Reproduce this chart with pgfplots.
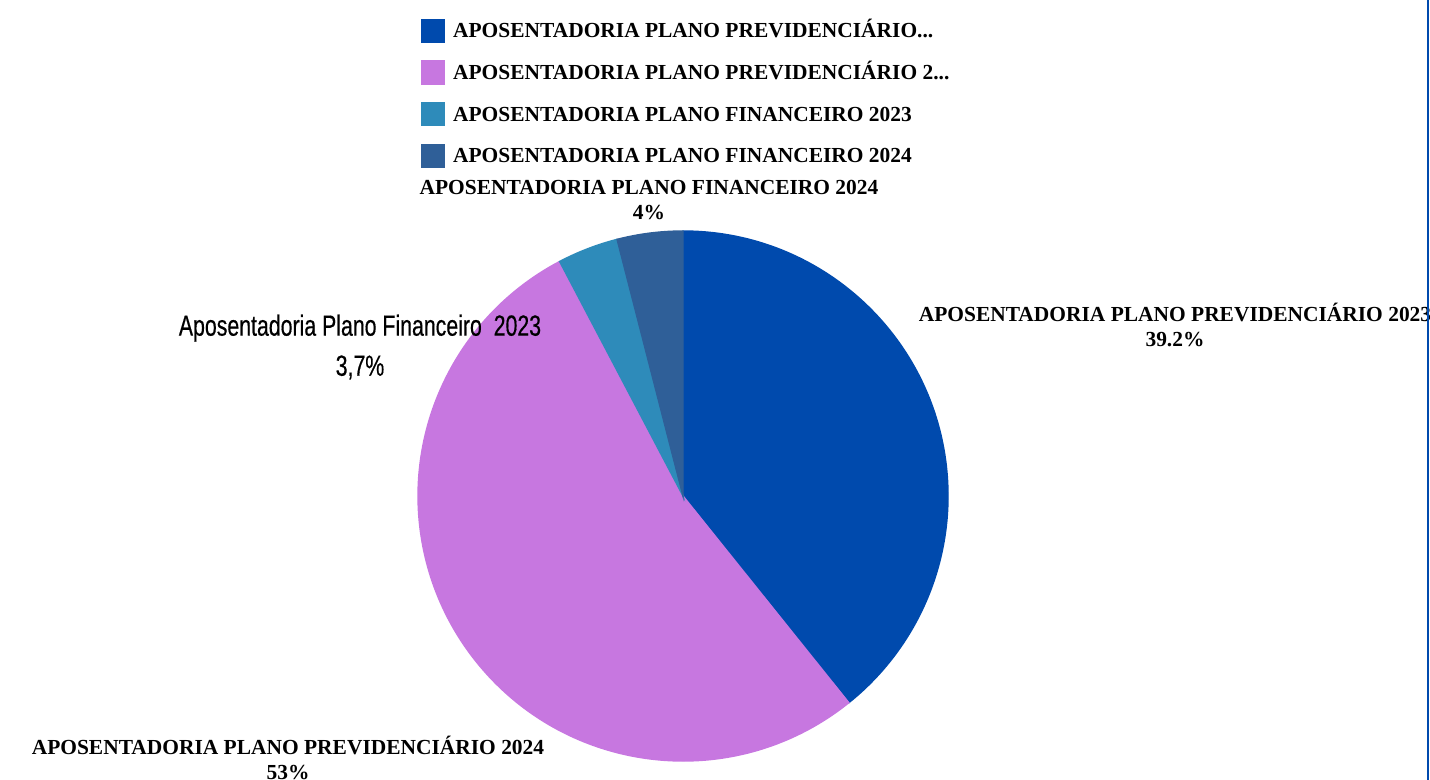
\documentclass[border=0pt]{standalone}
\usepackage{fontspec}
\usepackage{pgfplots}
\pgfplotsset{compat=1.18}
\newfontfamily\capfont{Liberation Serif}
\newfontfamily\condfont{Liberation Sans}[FakeStretch=0.73, FakeBold=0.4]
\definecolor{c1}{HTML}{004AAD}
\definecolor{c2}{HTML}{C777E0}
\definecolor{c3}{HTML}{2E8BBA}
\definecolor{c4}{HTML}{2F5F98}
\newcommand{\serifl}{\capfont\bfseries\fontsize{6.1pt}{6.95pt}\selectfont}
\newcommand{\condl}{\condfont\fontsize{8.3pt}{11.4pt}\selectfont}
\pgfplotsset{
  pieslice/.style={
    scatter, only marks, mark=*, mark size=0pt,
    mark options={draw=none, fill=none},
    visualization depends on={\thisrow{a0}\as\angA},
    visualization depends on={\thisrow{a1}\as\angB},
    scatter/@pre marker code/.code={%
      \fill[#1] (0,0) -- (\angA:26.5mm) arc[start angle=\angA, end angle=\angB, radius=26.5mm] -- cycle;},
    scatter/@post marker code/.code={},
    legend image code/.code={\fill[#1] (0mm,-0.45mm) rectangle (2.3mm,1.85mm); \path (3.1mm,0);},
  }
}
\begin{document}
\begin{tikzpicture}
\useasboundingbox (0,0) rectangle (143mm,78mm);
\clip (0,0) rectangle (143mm,78mm);
\begin{axis}[
  hide axis, scale only axis, width=143mm, height=78mm,
  xmin=0, xmax=1430, ymin=0, ymax=780, clip=false,
  legend cell align=left,
  legend style={at={(axis cs:420,763.85)}, anchor=north west, draw=none, fill=none,
    inner sep=0pt, row sep=0pt, font=\serifl,
    nodes={inner sep=0pt, text height=2.085mm, text depth=2.085mm}},
]
% value in percent, start and end angle of each slice
\addplot[pieslice=c1] table {
x y value a0 a1
683 284 39.2 90 -51.26
};
\addlegendentry{APOSENTADORIA PLANO PREVIDENCIÁRIO...}
\addplot[pieslice=c2] table {
x y value a0 a1
683 284 53.0 -51.26 -242.25
};
\addlegendentry{APOSENTADORIA PLANO PREVIDENCIÁRIO 2...}
\addplot[pieslice=c3] table {
x y value a0 a1
683 284 3.7 -242.25 -255.59
};
\addlegendentry{APOSENTADORIA PLANO FINANCEIRO 2023}
\addplot[pieslice=c4] table {
x y value a0 a1
683 284 4.0 -255.59 -270
};
\addlegendentry{APOSENTADORIA PLANO FINANCEIRO 2024}
\coordinate (L4) at (axis cs:649,580);
\coordinate (L1) at (axis cs:1175,455);
\coordinate (L2) at (axis cs:288,22);
\coordinate (L3) at (axis cs:360,433);
\coordinate (B0) at (axis cs:1428,0);
\coordinate (B1) at (axis cs:1428,780);
\end{axis}
\node[font=\serifl, align=center] at (L4) {APOSENTADORIA PLANO FINANCEIRO 2024\\4\%};
\node[font=\serifl, align=center] at (L1) {APOSENTADORIA PLANO PREVIDENCIÁRIO 2023\\39.2\%};
\node[font=\serifl, align=center] at (L2) {APOSENTADORIA PLANO PREVIDENCIÁRIO 2024\\53\%};
\node[font=\condl, align=center] at (L3) {Aposentadoria Plano Financeiro\ \ 2023\\3,7\%};
\draw[c1, line width=0.25mm] (B0) -- (B1);
\end{tikzpicture}
\end{document}
